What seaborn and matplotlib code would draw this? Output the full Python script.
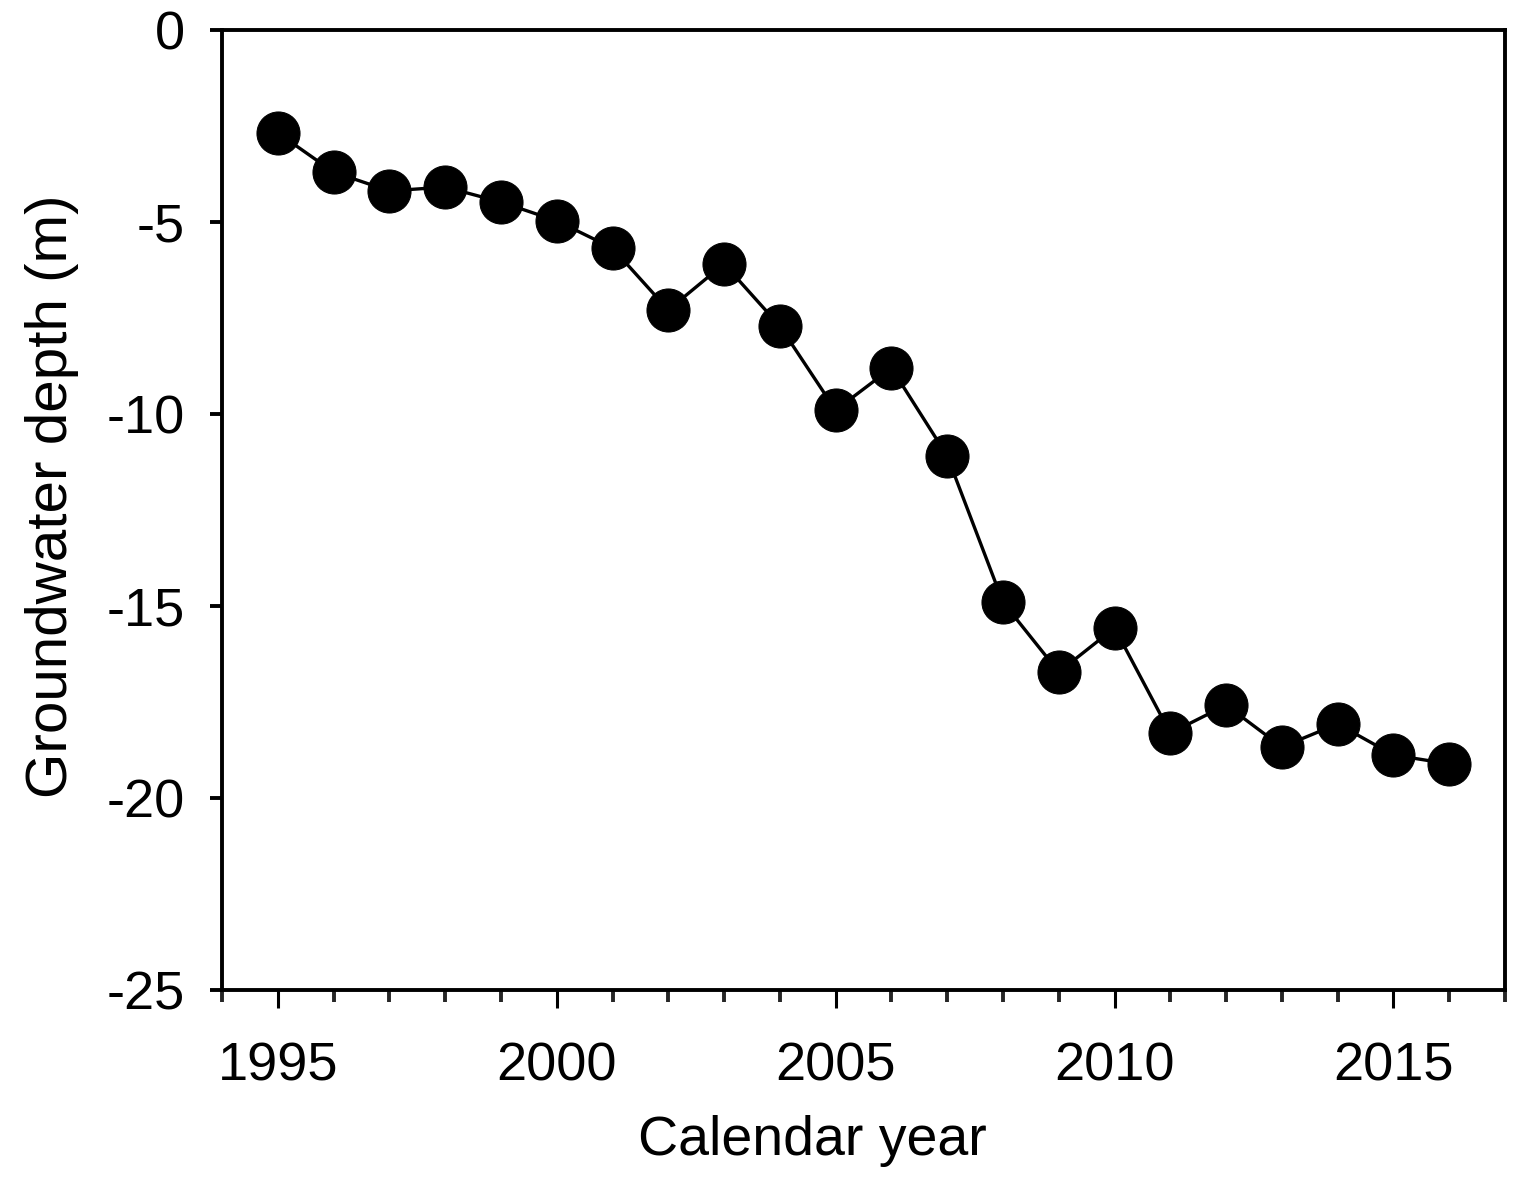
import numpy as np
import pandas as pd
import matplotlib
matplotlib.use("Agg")
import matplotlib.pyplot as plt
import seaborn as sns
from matplotlib.ticker import MultipleLocator

# Annual groundwater depth readings (m below surface, negative)
years = [1995, 1996, 1997, 1998, 1999, 2000, 2001, 2002, 2003, 2004, 2005,
         2006, 2007, 2008, 2009, 2010, 2011, 2012, 2013, 2014, 2015, 2016]
depth = [-2.68, -3.70, -4.19, -4.09, -4.48, -4.97, -5.68, -7.29, -6.09, -7.71, -9.90,
         -8.80, -11.09, -14.90, -16.72, -15.57, -18.31, -17.58, -18.67, -18.07, -18.88, -19.11]

df = pd.DataFrame({'year': years, 'depth': depth})

sns.set_style("ticks")
plt.rcParams['font.family'] = ['Liberation Sans', 'DejaVu Sans']
plt.rcParams['axes.unicode_minus'] = False
plt.rcParams['text.color'] = 'black'
plt.rcParams['axes.labelcolor'] = 'black'

fig = plt.figure(figsize=(15.25, 11.95), dpi=100)
ax = fig.add_axes([0.1456, 0.1715, 0.8413, 0.8034])

sns.lineplot(data=df, x='year', y='depth', ax=ax, color='black', linewidth=2.4,
             marker='o', markersize=31, markerfacecolor='black', markeredgecolor='black')

ax.set_xlim(1994, 2017)
ax.set_ylim(-25, 0)
ax.xaxis.set_major_locator(MultipleLocator(5))
ax.xaxis.set_minor_locator(MultipleLocator(1))
ax.yaxis.set_major_locator(MultipleLocator(5))

for s in ax.spines.values():
    s.set_linewidth(2.8)
    s.set_color('black')

ax.tick_params(axis='x', which='major', direction='out', length=13, width=2.2,
               labelsize=39, pad=24, colors='black')
ax.tick_params(axis='x', which='minor', direction='out', length=8.5, width=2.8)
ax.tick_params(axis='y', which='major', direction='out', length=8.5, width=2.8,
               labelsize=39, pad=18, colors='black')

ax.set_xlabel('Calendar year', fontsize=40)
ax.xaxis.set_label_coords(0.46, -0.13)
ax.set_ylabel('Groundwater depth (m)', fontsize=42, labelpad=20)
ax.yaxis.label.set_y(0.514)

fig.savefig('out.png', dpi=100)
